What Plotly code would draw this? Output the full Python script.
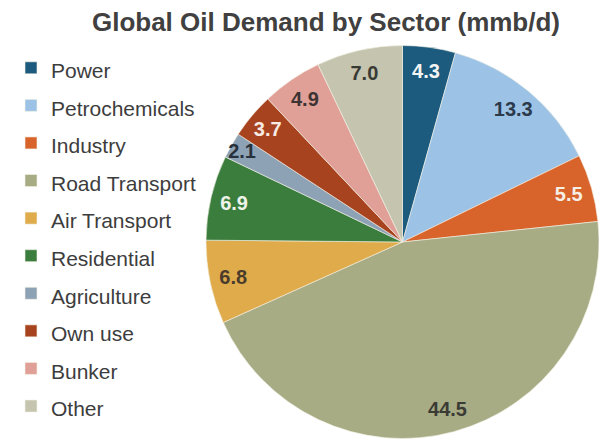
import plotly.graph_objects as go

# Global oil demand by sector, million barrels per day
sectors = ["Power", "Petrochemicals", "Industry", "Road Transport", "Air Transport",
           "Residential", "Agriculture", "Own use", "Bunker", "Other"]
demand = [4.3, 13.3, 5.5, 44.5, 6.8, 6.9, 2.1, 3.7, 4.9, 7.0]

slice_colors = ["#1c5b7e", "#9cc3e5", "#d8642b", "#a8ac85", "#dfab4b",
                "#3b7d3d", "#8ea2b5", "#a8431f", "#e0a097", "#c5c4ae"]
label_colors = ["#f4f4f4", "#2c3a4c", "#f6efe6", "#3b3b35", "#4a3c2c",
                "#eef4ea", "#27323d", "#f7ebe4", "#3d3333", "#3a3a35"]

W, H = 599, 445
domain = dict(x=[206 / W, 1.0], y=[2 / H, 404 / H])

# legend entries: smaller text inside a taller legend row
legend_labels = [f"<span style='font-size:21px'>{s}</span>" for s in sectors]

fig = go.Figure()

# the filled slices
fig.add_trace(go.Pie(
    labels=legend_labels,
    values=demand,
    sort=False,
    direction="clockwise",
    rotation=0,
    domain=domain,
    marker=dict(colors=slice_colors, line=dict(color="#f4f1e6", width=0.6)),
    textinfo="none",
    hoverinfo="label+value",
    showlegend=True,
))

# value labels placed in an outer ring over the same slices
fig.add_trace(go.Pie(
    labels=legend_labels,
    values=demand,
    sort=False,
    direction="clockwise",
    rotation=0,
    domain=domain,
    hole=0.76,
    marker=dict(colors=["rgba(0,0,0,0)"] * len(demand), line=dict(width=0)),
    texttemplate="<b>%{value:.1f}</b>",
    textposition="inside",
    insidetextorientation="horizontal",
    textfont=dict(family="Liberation Sans", size=20, color=label_colors),
    insidetextfont=dict(family="Liberation Sans", size=20, color=label_colors),
    hoverinfo="skip",
    showlegend=False,
))

fig.update_layout(
    width=W,
    height=H,
    margin=dict(l=0, r=0, t=0, b=0),
    paper_bgcolor="white",
    plot_bgcolor="white",
    uniformtext=dict(minsize=20, mode="show"),
    font=dict(family="Liberation Sans", color="#3d3d3d"),
    title=dict(
        text="<b>Global Oil Demand by Sector (mmb/d)</b>",
        x=326 / W,
        xanchor="center",
        y=1 - 22 / H,
        yanchor="middle",
        font=dict(family="Liberation Sans", size=26, color="#404040"),
    ),
    legend=dict(
        x=18 / W,
        xanchor="left",
        y=1 - 44 / H,
        yanchor="top",
        font=dict(family="Liberation Sans", size=26.6, color="#3d3d3d"),
        bgcolor="rgba(0,0,0,0)",
        traceorder="normal",
        indentation=-7,
    ),
)

fig.write_html("out.html")
